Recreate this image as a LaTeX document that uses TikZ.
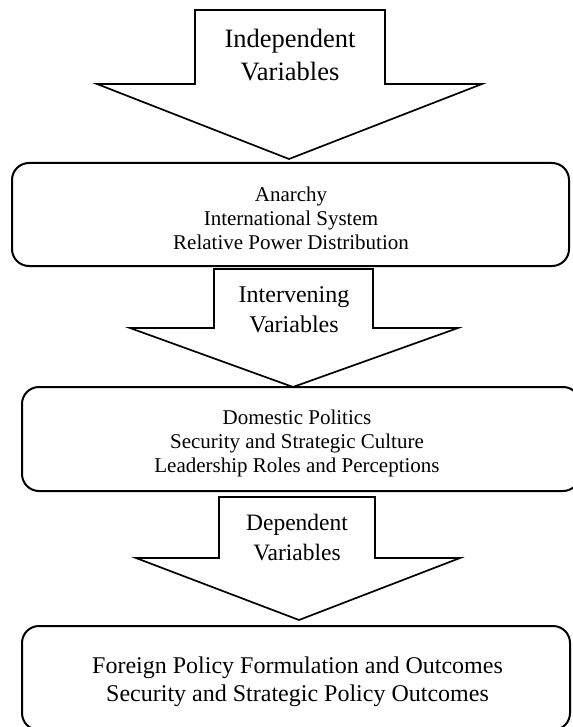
\documentclass[tikz,border=0pt]{standalone}
\usepackage{fontspec}
\setmainfont{Liberation Serif}
\begin{document}
\begin{tikzpicture}[x=1pt,y=-1pt,
  stage/.style={draw=black, line width=2pt, rounded corners=17pt, inner sep=0pt},
  blockarrow/.style={draw=black, line width=1.7pt, line join=miter, fill=white},
  lbl/.style={align=center, inner sep=0pt, text=black}]
\useasboundingbox (0,0) rectangle (572,727);

% boxes
\node[stage, minimum width=557pt, minimum height=103pt] (b1) at (290.5,214.5) {};
\node[stage, minimum width=558pt, minimum height=104pt] (b2) at (301,439) {};
\node[stage, minimum width=548pt, minimum height=104pt] (b3) at (296,678) {};

% block arrows
\draw[blockarrow] (195,10) -- (385,10) -- (385,84) -- (482,84) -- (289,159) -- (97,84) -- (195,84) -- cycle;
\draw[blockarrow] (214,269) -- (373,269) -- (373,328) -- (458,328) -- (293,387) -- (130,328) -- (214,328) -- cycle;
\draw[blockarrow] (219,497) -- (375,497) -- (375,558) -- (460,558) -- (299,620) -- (136,558) -- (219,558) -- cycle;

% arrow labels
\node[lbl, font=\fontsize{26.5}{33}\selectfont] (h1) at (290,55.5) {Independent\\Variables};
\node[lbl, font=\fontsize{24}{30}\selectfont] (h2) at (294,310) {Intervening\\Variables};
\node[lbl, font=\fontsize{23.5}{30}\selectfont] (h3) at (297,538) {Dependent\\Variables};

% box texts
\node[lbl, font=\fontsize{21}{24}\selectfont] (t1) at (291,218) {Anarchy\\International System\\Relative Power Distribution};
\node[lbl, font=\fontsize{21}{24}\selectfont] (t2) at (297,443.6) {Domestic Politics\\Security and Strategic Culture\\Leadership Roles and Perceptions};
\node[lbl, font=\fontsize{24}{28}\selectfont] (t3) at (297.5,681.4) {Foreign Policy Formulation and Outcomes\\Security and Strategic Policy Outcomes};
\end{tikzpicture}
\end{document}
